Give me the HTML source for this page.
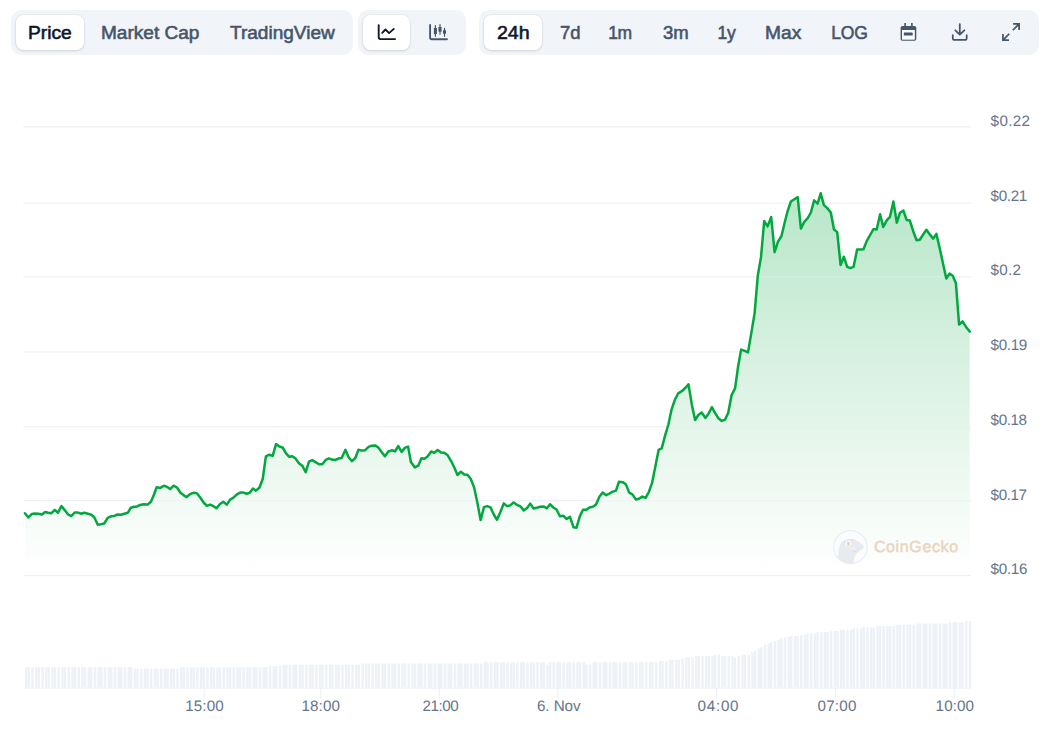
<!DOCTYPE html>
<html lang="en"><head><meta charset="utf-8"><title>Price chart</title>
<style>
html,body{margin:0;padding:0;background:#fff;}
body{width:1053px;height:730px;position:relative;overflow:hidden;font-family:"Liberation Sans",Arial,sans-serif;}
.grp{position:absolute;top:10px;height:45px;background:#f1f5f9;border-radius:10px;}
.pill{position:absolute;top:5px;height:35px;background:#fff;border-radius:7.5px;box-shadow:0 0 0 1px rgba(15,40,42,.035),0 1px 2.5px rgba(15,40,42,.13);}
.t{position:absolute;display:inline-block;transform-origin:0 50%;top:0.7px;height:45px;line-height:45px;font-size:17.5px;font-weight:400;-webkit-text-stroke:0.55px currentColor;color:#475569;white-space:nowrap;letter-spacing:0;}
.t.on{color:#0f172a;}
.ic{position:absolute;}
.chart{position:absolute;left:0;top:0;}
</style></head><body>
<div class="grp" style="left:11px;width:342px">
  <div class="pill" style="left:5px;width:68px"></div>
  <span class="t on" style="left:17.40px;transform:scaleX(1.0986)">Price</span>
  <span class="t" style="left:90.31px;transform:scaleX(1.0877)">Market Cap</span>
  <span class="t" style="left:218.80px;transform:scaleX(1.0883)">TradingView</span>
</div>
<div class="grp" style="left:358px;width:108px">
  <div class="pill" style="left:5px;width:47px"></div>
  <svg class="ic" style="left:17px;top:12px" width="22" height="22" viewBox="0 0 22 22" fill="none" stroke="#0f172a" stroke-width="1.85" stroke-linecap="round" stroke-linejoin="round">
    <path d="M3.7 3.1 V15.3 Q3.7 17.05 5.5 17.05 H20.1"/><path d="M7.2 10.9 L10.5 7.5 L14.1 11.1 L18.8 6.9"/></svg>
  <svg class="ic" style="left:69px;top:12px" width="22" height="22" viewBox="0 0 22 22" fill="none" stroke="#475569" stroke-width="1.85" stroke-linecap="round" stroke-linejoin="round">
    <path d="M3.1 2.9 V15.4 Q3.1 17.2 4.9 17.2 H20"/>
    <path d="M8.4 3.6 V14.3 M13 2.5 V12.2 M17.5 6.4 V14.3" stroke-width="1.2"/>
    <path d="M8.4 6.1 V12 M13 5 V9.8 M17.5 8.2 V11.8" stroke-width="3.1" stroke-linecap="butt"/></svg>
</div>
<div class="grp" style="left:479px;width:560px">
  <div class="pill" style="left:5px;width:58px"></div>
  <span class="t on" style="left:18.40px;transform:scaleX(1.1171)">24h</span>
  <span class="t" style="left:80.50px;transform:scaleX(1.0570)">7d</span>
  <span class="t" style="left:129.20px;letter-spacing:-0.333px">1m</span>
  <span class="t" style="left:183.90px;transform:scaleX(1.0576)">3m</span>
  <span class="t" style="left:238.40px;letter-spacing:-0.233px">1y</span>
  <span class="t" style="left:286.30px;transform:scaleX(1.0956)">Max</span>
  <span class="t" style="left:352.30px;letter-spacing:-0.222px">LOG</span>
  <svg class="ic" style="left:419px;top:11px" width="22" height="22" viewBox="0 0 22 22" fill="#475569">
    <path fill-rule="evenodd" d="M6.3 2.1 h1.6 v2.85 h5.2 v-2.85 h1.6 v2.85 h1.8 a1.8 1.8 0 0 1 1.8 1.8 v11.15 a1.8 1.8 0 0 1 -1.8 1.8 h-12.1 a1.8 1.8 0 0 1 -1.8 -1.8 v-11.15 a1.8 1.8 0 0 1 1.8 -1.8 h1.9 z M4.1 9 v9.4 h12.5 v-9.4 z"/>
    <rect x="4.1" y="9" width="12.5" height="9.4" fill="#fcfdfe"/>
    <rect x="5.8" y="11.4" width="8.9" height="3.2" rx="0.6"/></svg>
  <svg class="ic" style="left:470px;top:11px" width="22" height="22" viewBox="0 0 22 22" fill="none" stroke="#475569" stroke-width="1.75" stroke-linecap="round" stroke-linejoin="round">
    <path d="M10.8 3 V13.4 M6.3 9.3 L10.8 13.7 L15.3 9.3 M3.8 14.2 V16.9 Q3.8 18.95 5.9 18.95 H15.6 Q17.7 18.95 17.7 16.9 V14.2"/></svg>
  <svg class="ic" style="left:521px;top:11px" width="22" height="22" viewBox="0 0 22 22" fill="none" stroke="#475569" stroke-width="1.75" stroke-linecap="butt" stroke-linejoin="miter">
    <path d="M13.1 2.95 H19.1 V8.9 M19.1 2.95 L12.8 9.25 M2.95 13.1 V19.1 H9 M2.95 19.1 L9.3 12.75"/></svg>
</div>
<svg class="chart" width="1053" height="730" viewBox="0 0 1053 730">
<defs><linearGradient id="ag" x1="0" y1="192" x2="0" y2="572" gradientUnits="userSpaceOnUse"><stop offset="0" stop-color="#00a83e" stop-opacity="0.28"/><stop offset="1" stop-color="#00a83e" stop-opacity="0"/></linearGradient><clipPath id="ac"><path d="M24.9 513.2 L28.4 517.5 L31.7 514.1 L34.8 513.6 L38.5 513.8 L42.0 514.5 L45.1 512.0 L48.1 512.8 L51.5 513.2 L54.8 509.9 L58.0 512.8 L61.4 506.1 L64.7 510.1 L68.1 514.5 L71.2 516.1 L74.7 512.6 L78.0 512.6 L81.4 513.8 L84.2 512.8 L87.9 513.8 L91.4 514.8 L94.4 517.5 L97.8 524.7 L100.9 524.3 L104.2 523.5 L107.7 517.8 L111.0 516.3 L114.4 515.9 L117.5 514.5 L121.0 514.8 L124.3 513.8 L127.8 512.8 L130.9 507.7 L134.2 506.7 L137.3 506.4 L140.0 504.9 L143.7 504.2 L147.7 504.6 L151.1 501.5 L153.8 495.0 L156.7 487.3 L160.4 487.9 L163.8 485.8 L167.2 486.9 L170.2 489.1 L173.6 485.7 L177.0 487.5 L180.5 492.8 L183.5 495.1 L186.7 497.2 L190.0 494.1 L193.3 492.8 L196.8 493.2 L200.1 497.2 L203.6 502.5 L206.9 505.8 L210.0 504.6 L213.5 506.2 L216.5 508.3 L220.0 504.0 L223.3 501.7 L226.8 504.6 L230.1 499.6 L233.2 497.8 L236.9 494.4 L240.2 492.6 L243.5 492.6 L246.8 493.7 L249.9 492.6 L253.0 488.5 L256.0 490.7 L259.5 487.5 L262.7 479.0 L265.9 456.4 L269.3 454.7 L272.7 455.9 L276.0 444.1 L279.4 446.5 L282.6 447.5 L285.9 453.1 L289.3 456.8 L292.3 456.2 L295.6 458.6 L298.9 463.3 L302.6 466.1 L305.7 472.2 L309.0 461.7 L312.2 460.1 L315.6 462.1 L319.0 464.2 L322.3 464.2 L325.8 459.9 L328.9 458.4 L331.8 459.6 L335.1 460.0 L338.4 458.6 L341.7 458.0 L345.4 449.8 L348.6 457.2 L352.0 461.1 L355.3 458.0 L358.5 449.8 L361.9 450.6 L364.9 450.3 L368.6 446.9 L371.7 445.7 L375.1 445.4 L378.3 447.5 L381.6 451.9 L384.9 456.2 L388.4 451.5 L391.7 450.3 L395.1 451.3 L398.3 446.0 L401.6 451.9 L405.1 447.6 L408.1 446.6 L410.9 462.0 L414.9 467.4 L418.3 465.7 L421.4 458.3 L424.4 458.7 L427.5 456.5 L431.2 451.5 L434.3 452.8 L437.7 450.1 L441.1 452.5 L444.2 452.8 L447.7 455.3 L451.0 460.8 L454.1 467.0 L457.5 475.0 L460.9 471.7 L464.3 474.4 L467.4 474.8 L470.7 478.7 L474.1 487.4 L477.3 502.2 L480.6 520.1 L484.0 507.1 L487.2 506.1 L490.5 507.4 L493.8 514.5 L497.0 519.8 L500.4 512.0 L503.8 503.4 L507.0 506.1 L510.2 505.4 L513.6 502.4 L516.9 504.8 L520.4 506.3 L523.7 510.4 L526.9 508.3 L530.2 503.6 L533.6 508.5 L536.8 507.7 L540.1 506.7 L543.5 506.4 L546.9 508.3 L550.0 504.2 L553.3 507.5 L556.5 509.5 L559.9 516.2 L563.2 515.7 L566.7 519.0 L570.0 516.9 L573.5 527.3 L576.5 527.7 L580.0 515.9 L583.0 509.8 L586.4 509.8 L589.5 507.5 L592.8 506.7 L596.0 504.6 L599.4 496.8 L602.7 492.5 L606.2 495.2 L609.5 493.5 L612.6 491.6 L616.0 490.6 L618.9 481.8 L623.0 482.3 L626.0 484.6 L629.2 492.6 L632.4 494.4 L636.0 499.6 L639.0 498.7 L642.2 496.6 L645.6 497.8 L648.8 492.1 L652.0 483.2 L655.4 466.3 L658.6 449.9 L661.8 448.1 L665.2 435.1 L668.4 424.5 L671.6 409.3 L675.0 399.5 L678.2 393.3 L681.8 391.2 L685.0 388.3 L688.5 384.4 L691.9 404.9 L695.1 420.0 L698.3 415.0 L701.7 412.5 L705.3 417.9 L708.5 413.8 L711.8 407.2 L715.0 412.9 L718.3 418.2 L721.8 420.9 L725.0 419.7 L728.2 412.9 L731.6 395.1 L735.1 388.1 L738.2 366.0 L741.1 349.6 L744.7 350.9 L748.0 352.4 L751.3 333.1 L754.6 313.4 L757.8 275.5 L761.0 257.1 L764.2 221.1 L767.6 226.4 L771.2 217.0 L774.6 252.2 L777.9 241.9 L781.5 236.0 L784.5 223.2 L787.7 210.8 L790.9 201.5 L794.3 199.2 L797.7 197.1 L800.9 228.6 L804.3 221.8 L807.7 218.2 L810.9 212.5 L814.1 200.4 L817.6 203.6 L820.7 193.3 L823.9 205.1 L827.3 208.1 L830.8 212.5 L834.0 229.5 L837.2 232.1 L840.6 265.1 L843.8 256.7 L847.2 266.8 L850.4 268.1 L853.6 266.8 L857.1 249.6 L860.3 249.6 L863.5 249.2 L866.7 241.1 L869.9 235.4 L873.5 229.0 L876.7 229.5 L880.1 214.2 L883.2 226.9 L886.9 220.1 L890.0 216.9 L893.4 201.4 L896.8 222.7 L900.0 212.7 L903.4 210.6 L906.6 219.9 L909.8 220.5 L913.2 231.2 L916.6 240.3 L919.8 239.7 L923.0 234.8 L926.4 229.7 L929.8 234.4 L933.2 238.6 L936.4 233.9 L939.7 248.2 L942.9 263.0 L946.3 278.5 L949.5 273.6 L952.7 275.8 L955.9 283.2 L959.1 324.6 L962.5 321.4 L965.9 326.7 L969.7 331.6 L969.7 572.0 L24.9 572.0 Z"/></clipPath></defs>
<g stroke="#eef1f6" stroke-width="1.25">
<line x1="23.3" y1="126.875" x2="970.8" y2="126.875"/>
<line x1="23.3" y1="203.125" x2="970.8" y2="203.125"/>
<line x1="23.3" y1="276.875" x2="970.8" y2="276.875"/>
<line x1="23.3" y1="351.875" x2="970.8" y2="351.875"/>
<line x1="23.3" y1="426.875" x2="970.8" y2="426.875"/>
<line x1="23.3" y1="500.625" x2="970.8" y2="500.625"/>
<line x1="23.3" y1="575.625" x2="970.8" y2="575.625"/>
</g>
<g fill="#eef2f7"><rect x="25.00" y="667.20" width="2.5" height="20.30"/>
<rect x="27.50" y="667.20" width="2.5" height="20.30"/>
<rect x="31.25" y="667.20" width="2.5" height="20.30"/>
<rect x="35.00" y="667.20" width="2.5" height="20.30"/>
<rect x="37.50" y="667.20" width="2.5" height="20.30"/>
<rect x="41.25" y="667.20" width="2.5" height="20.30"/>
<rect x="45.00" y="667.20" width="2.5" height="20.30"/>
<rect x="47.50" y="667.20" width="2.5" height="20.30"/>
<rect x="51.25" y="667.20" width="2.5" height="20.30"/>
<rect x="53.75" y="667.20" width="2.5" height="20.30"/>
<rect x="57.50" y="667.20" width="2.5" height="20.30"/>
<rect x="61.25" y="667.20" width="2.5" height="20.30"/>
<rect x="63.75" y="667.20" width="2.5" height="20.30"/>
<rect x="67.50" y="667.20" width="2.5" height="20.30"/>
<rect x="71.25" y="667.20" width="2.5" height="20.30"/>
<rect x="73.75" y="667.20" width="2.5" height="20.30"/>
<rect x="77.50" y="667.20" width="2.5" height="20.30"/>
<rect x="81.25" y="667.20" width="2.5" height="20.30"/>
<rect x="83.75" y="667.20" width="2.5" height="20.30"/>
<rect x="87.50" y="667.20" width="2.5" height="20.30"/>
<rect x="90.00" y="667.20" width="2.5" height="20.30"/>
<rect x="93.75" y="667.20" width="2.5" height="20.30"/>
<rect x="97.50" y="667.20" width="2.5" height="20.30"/>
<rect x="100.00" y="667.20" width="2.5" height="20.30"/>
<rect x="103.75" y="667.20" width="2.5" height="20.30"/>
<rect x="107.50" y="667.20" width="2.5" height="20.30"/>
<rect x="110.00" y="667.20" width="2.5" height="20.30"/>
<rect x="113.75" y="667.20" width="2.5" height="20.30"/>
<rect x="117.50" y="667.20" width="2.5" height="20.30"/>
<rect x="120.00" y="667.20" width="2.5" height="20.30"/>
<rect x="123.75" y="667.20" width="2.5" height="20.30"/>
<rect x="127.50" y="667.20" width="2.5" height="20.30"/>
<rect x="130.00" y="667.20" width="2.5" height="20.30"/>
<rect x="133.75" y="668.45" width="2.5" height="19.05"/>
<rect x="136.25" y="668.45" width="2.5" height="19.05"/>
<rect x="140.00" y="668.45" width="2.5" height="19.05"/>
<rect x="143.75" y="668.45" width="2.5" height="19.05"/>
<rect x="146.25" y="668.45" width="2.5" height="19.05"/>
<rect x="150.00" y="668.45" width="2.5" height="19.05"/>
<rect x="153.75" y="668.45" width="2.5" height="19.05"/>
<rect x="156.25" y="668.45" width="2.5" height="19.05"/>
<rect x="160.00" y="668.45" width="2.5" height="19.05"/>
<rect x="163.75" y="668.45" width="2.5" height="19.05"/>
<rect x="166.25" y="668.45" width="2.5" height="19.05"/>
<rect x="170.00" y="668.45" width="2.5" height="19.05"/>
<rect x="172.50" y="668.45" width="2.5" height="19.05"/>
<rect x="176.25" y="668.45" width="2.5" height="19.05"/>
<rect x="180.00" y="667.20" width="2.5" height="20.30"/>
<rect x="182.50" y="667.20" width="2.5" height="20.30"/>
<rect x="186.25" y="667.20" width="2.5" height="20.30"/>
<rect x="190.00" y="667.20" width="2.5" height="20.30"/>
<rect x="192.50" y="667.20" width="2.5" height="20.30"/>
<rect x="196.25" y="667.20" width="2.5" height="20.30"/>
<rect x="200.00" y="667.20" width="2.5" height="20.30"/>
<rect x="202.50" y="667.20" width="2.5" height="20.30"/>
<rect x="206.25" y="667.20" width="2.5" height="20.30"/>
<rect x="210.00" y="667.20" width="2.5" height="20.30"/>
<rect x="212.50" y="667.20" width="2.5" height="20.30"/>
<rect x="216.25" y="667.20" width="2.5" height="20.30"/>
<rect x="218.75" y="667.20" width="2.5" height="20.30"/>
<rect x="222.50" y="667.20" width="2.5" height="20.30"/>
<rect x="226.25" y="667.20" width="2.5" height="20.30"/>
<rect x="228.75" y="667.20" width="2.5" height="20.30"/>
<rect x="232.50" y="667.20" width="2.5" height="20.30"/>
<rect x="236.25" y="667.20" width="2.5" height="20.30"/>
<rect x="238.75" y="667.20" width="2.5" height="20.30"/>
<rect x="242.50" y="667.20" width="2.5" height="20.30"/>
<rect x="246.25" y="667.20" width="2.5" height="20.30"/>
<rect x="248.75" y="667.20" width="2.5" height="20.30"/>
<rect x="252.50" y="667.20" width="2.5" height="20.30"/>
<rect x="255.00" y="667.20" width="2.5" height="20.30"/>
<rect x="258.75" y="667.20" width="2.5" height="20.30"/>
<rect x="262.50" y="667.20" width="2.5" height="20.30"/>
<rect x="265.00" y="667.20" width="2.5" height="20.30"/>
<rect x="268.75" y="665.95" width="2.5" height="21.55"/>
<rect x="272.50" y="665.95" width="2.5" height="21.55"/>
<rect x="275.00" y="665.95" width="2.5" height="21.55"/>
<rect x="278.75" y="665.95" width="2.5" height="21.55"/>
<rect x="282.50" y="664.70" width="2.5" height="22.80"/>
<rect x="285.00" y="664.70" width="2.5" height="22.80"/>
<rect x="288.75" y="664.70" width="2.5" height="22.80"/>
<rect x="292.50" y="664.70" width="2.5" height="22.80"/>
<rect x="295.00" y="664.70" width="2.5" height="22.80"/>
<rect x="298.75" y="664.70" width="2.5" height="22.80"/>
<rect x="301.25" y="664.70" width="2.5" height="22.80"/>
<rect x="305.00" y="664.70" width="2.5" height="22.80"/>
<rect x="308.75" y="664.70" width="2.5" height="22.80"/>
<rect x="311.25" y="664.70" width="2.5" height="22.80"/>
<rect x="315.00" y="664.70" width="2.5" height="22.80"/>
<rect x="318.75" y="664.70" width="2.5" height="22.80"/>
<rect x="321.25" y="664.70" width="2.5" height="22.80"/>
<rect x="325.00" y="664.70" width="2.5" height="22.80"/>
<rect x="328.75" y="664.70" width="2.5" height="22.80"/>
<rect x="331.25" y="664.70" width="2.5" height="22.80"/>
<rect x="335.00" y="664.70" width="2.5" height="22.80"/>
<rect x="337.50" y="664.70" width="2.5" height="22.80"/>
<rect x="341.25" y="664.70" width="2.5" height="22.80"/>
<rect x="345.00" y="664.70" width="2.5" height="22.80"/>
<rect x="347.50" y="664.70" width="2.5" height="22.80"/>
<rect x="351.25" y="664.70" width="2.5" height="22.80"/>
<rect x="355.00" y="664.70" width="2.5" height="22.80"/>
<rect x="357.50" y="664.70" width="2.5" height="22.80"/>
<rect x="361.25" y="663.45" width="2.5" height="24.05"/>
<rect x="365.00" y="663.45" width="2.5" height="24.05"/>
<rect x="367.50" y="663.45" width="2.5" height="24.05"/>
<rect x="371.25" y="663.45" width="2.5" height="24.05"/>
<rect x="375.00" y="663.45" width="2.5" height="24.05"/>
<rect x="377.50" y="663.45" width="2.5" height="24.05"/>
<rect x="381.25" y="663.45" width="2.5" height="24.05"/>
<rect x="383.75" y="663.45" width="2.5" height="24.05"/>
<rect x="387.50" y="663.45" width="2.5" height="24.05"/>
<rect x="391.25" y="663.45" width="2.5" height="24.05"/>
<rect x="393.75" y="663.45" width="2.5" height="24.05"/>
<rect x="397.50" y="663.45" width="2.5" height="24.05"/>
<rect x="401.25" y="663.45" width="2.5" height="24.05"/>
<rect x="403.75" y="663.45" width="2.5" height="24.05"/>
<rect x="407.50" y="663.45" width="2.5" height="24.05"/>
<rect x="411.25" y="663.45" width="2.5" height="24.05"/>
<rect x="413.75" y="663.45" width="2.5" height="24.05"/>
<rect x="417.50" y="663.45" width="2.5" height="24.05"/>
<rect x="420.00" y="663.45" width="2.5" height="24.05"/>
<rect x="423.75" y="663.45" width="2.5" height="24.05"/>
<rect x="427.50" y="663.45" width="2.5" height="24.05"/>
<rect x="430.00" y="663.45" width="2.5" height="24.05"/>
<rect x="433.75" y="663.45" width="2.5" height="24.05"/>
<rect x="437.50" y="663.45" width="2.5" height="24.05"/>
<rect x="440.00" y="663.45" width="2.5" height="24.05"/>
<rect x="443.75" y="663.45" width="2.5" height="24.05"/>
<rect x="447.50" y="663.45" width="2.5" height="24.05"/>
<rect x="450.00" y="663.45" width="2.5" height="24.05"/>
<rect x="453.75" y="663.45" width="2.5" height="24.05"/>
<rect x="457.50" y="663.45" width="2.5" height="24.05"/>
<rect x="460.00" y="663.45" width="2.5" height="24.05"/>
<rect x="463.75" y="663.45" width="2.5" height="24.05"/>
<rect x="466.25" y="663.45" width="2.5" height="24.05"/>
<rect x="470.00" y="663.45" width="2.5" height="24.05"/>
<rect x="473.75" y="663.45" width="2.5" height="24.05"/>
<rect x="476.25" y="663.45" width="2.5" height="24.05"/>
<rect x="480.00" y="663.45" width="2.5" height="24.05"/>
<rect x="483.75" y="662.20" width="2.5" height="25.30"/>
<rect x="486.25" y="662.20" width="2.5" height="25.30"/>
<rect x="490.00" y="662.20" width="2.5" height="25.30"/>
<rect x="493.75" y="662.20" width="2.5" height="25.30"/>
<rect x="496.25" y="662.20" width="2.5" height="25.30"/>
<rect x="500.00" y="662.20" width="2.5" height="25.30"/>
<rect x="502.50" y="662.20" width="2.5" height="25.30"/>
<rect x="506.25" y="662.20" width="2.5" height="25.30"/>
<rect x="510.00" y="662.20" width="2.5" height="25.30"/>
<rect x="512.50" y="662.20" width="2.5" height="25.30"/>
<rect x="516.25" y="662.20" width="2.5" height="25.30"/>
<rect x="520.00" y="662.20" width="2.5" height="25.30"/>
<rect x="522.50" y="662.20" width="2.5" height="25.30"/>
<rect x="526.25" y="662.20" width="2.5" height="25.30"/>
<rect x="530.00" y="662.20" width="2.5" height="25.30"/>
<rect x="532.50" y="662.20" width="2.5" height="25.30"/>
<rect x="536.25" y="662.20" width="2.5" height="25.30"/>
<rect x="540.00" y="662.20" width="2.5" height="25.30"/>
<rect x="542.50" y="662.20" width="2.5" height="25.30"/>
<rect x="546.25" y="664.70" width="2.5" height="22.80"/>
<rect x="548.75" y="662.20" width="2.5" height="25.30"/>
<rect x="552.50" y="662.20" width="2.5" height="25.30"/>
<rect x="556.25" y="662.20" width="2.5" height="25.30"/>
<rect x="558.75" y="662.20" width="2.5" height="25.30"/>
<rect x="562.50" y="662.20" width="2.5" height="25.30"/>
<rect x="566.25" y="662.20" width="2.5" height="25.30"/>
<rect x="568.75" y="662.20" width="2.5" height="25.30"/>
<rect x="572.50" y="662.20" width="2.5" height="25.30"/>
<rect x="576.25" y="662.20" width="2.5" height="25.30"/>
<rect x="578.75" y="662.20" width="2.5" height="25.30"/>
<rect x="582.50" y="662.20" width="2.5" height="25.30"/>
<rect x="585.00" y="664.70" width="2.5" height="22.80"/>
<rect x="588.75" y="664.70" width="2.5" height="22.80"/>
<rect x="592.50" y="662.20" width="2.5" height="25.30"/>
<rect x="595.00" y="662.20" width="2.5" height="25.30"/>
<rect x="598.75" y="662.20" width="2.5" height="25.30"/>
<rect x="602.50" y="662.20" width="2.5" height="25.30"/>
<rect x="605.00" y="662.20" width="2.5" height="25.30"/>
<rect x="608.75" y="662.20" width="2.5" height="25.30"/>
<rect x="612.50" y="662.20" width="2.5" height="25.30"/>
<rect x="615.00" y="662.20" width="2.5" height="25.30"/>
<rect x="618.75" y="662.20" width="2.5" height="25.30"/>
<rect x="622.50" y="662.20" width="2.5" height="25.30"/>
<rect x="625.00" y="662.20" width="2.5" height="25.30"/>
<rect x="628.75" y="662.20" width="2.5" height="25.30"/>
<rect x="631.25" y="662.20" width="2.5" height="25.30"/>
<rect x="635.00" y="662.20" width="2.5" height="25.30"/>
<rect x="638.75" y="662.20" width="2.5" height="25.30"/>
<rect x="641.25" y="662.20" width="2.5" height="25.30"/>
<rect x="645.00" y="662.20" width="2.5" height="25.30"/>
<rect x="648.75" y="662.20" width="2.5" height="25.30"/>
<rect x="651.25" y="662.20" width="2.5" height="25.30"/>
<rect x="655.00" y="662.20" width="2.5" height="25.30"/>
<rect x="658.75" y="660.95" width="2.5" height="26.55"/>
<rect x="661.25" y="660.95" width="2.5" height="26.55"/>
<rect x="665.00" y="660.95" width="2.5" height="26.55"/>
<rect x="668.75" y="659.70" width="2.5" height="27.80"/>
<rect x="671.25" y="659.70" width="2.5" height="27.80"/>
<rect x="675.00" y="659.70" width="2.5" height="27.80"/>
<rect x="677.50" y="659.70" width="2.5" height="27.80"/>
<rect x="681.25" y="658.45" width="2.5" height="29.05"/>
<rect x="685.00" y="657.20" width="2.5" height="30.30"/>
<rect x="687.50" y="657.20" width="2.5" height="30.30"/>
<rect x="691.25" y="657.20" width="2.5" height="30.30"/>
<rect x="695.00" y="655.95" width="2.5" height="31.55"/>
<rect x="697.50" y="655.95" width="2.5" height="31.55"/>
<rect x="701.25" y="655.95" width="2.5" height="31.55"/>
<rect x="705.00" y="655.95" width="2.5" height="31.55"/>
<rect x="707.50" y="655.95" width="2.5" height="31.55"/>
<rect x="711.25" y="655.95" width="2.5" height="31.55"/>
<rect x="713.75" y="654.70" width="2.5" height="32.80"/>
<rect x="717.50" y="654.70" width="2.5" height="32.80"/>
<rect x="721.25" y="655.95" width="2.5" height="31.55"/>
<rect x="723.75" y="655.95" width="2.5" height="31.55"/>
<rect x="727.50" y="655.95" width="2.5" height="31.55"/>
<rect x="731.25" y="655.95" width="2.5" height="31.55"/>
<rect x="733.75" y="657.20" width="2.5" height="30.30"/>
<rect x="737.50" y="655.95" width="2.5" height="31.55"/>
<rect x="741.25" y="654.70" width="2.5" height="32.80"/>
<rect x="743.75" y="654.70" width="2.5" height="32.80"/>
<rect x="747.50" y="654.70" width="2.5" height="32.80"/>
<rect x="751.25" y="652.20" width="2.5" height="35.30"/>
<rect x="753.75" y="650.95" width="2.5" height="36.55"/>
<rect x="757.50" y="648.45" width="2.5" height="39.05"/>
<rect x="760.00" y="647.20" width="2.5" height="40.30"/>
<rect x="763.75" y="644.70" width="2.5" height="42.80"/>
<rect x="767.50" y="643.45" width="2.5" height="44.05"/>
<rect x="770.00" y="642.20" width="2.5" height="45.30"/>
<rect x="773.75" y="640.95" width="2.5" height="46.55"/>
<rect x="777.50" y="639.70" width="2.5" height="47.80"/>
<rect x="780.00" y="638.45" width="2.5" height="49.05"/>
<rect x="783.75" y="637.20" width="2.5" height="50.30"/>
<rect x="787.50" y="637.20" width="2.5" height="50.30"/>
<rect x="790.00" y="635.95" width="2.5" height="51.55"/>
<rect x="793.75" y="635.95" width="2.5" height="51.55"/>
<rect x="796.25" y="635.95" width="2.5" height="51.55"/>
<rect x="800.00" y="634.70" width="2.5" height="52.80"/>
<rect x="803.75" y="634.70" width="2.5" height="52.80"/>
<rect x="806.25" y="633.45" width="2.5" height="54.05"/>
<rect x="810.00" y="633.45" width="2.5" height="54.05"/>
<rect x="813.75" y="633.45" width="2.5" height="54.05"/>
<rect x="816.25" y="632.20" width="2.5" height="55.30"/>
<rect x="820.00" y="632.20" width="2.5" height="55.30"/>
<rect x="823.75" y="632.20" width="2.5" height="55.30"/>
<rect x="826.25" y="632.20" width="2.5" height="55.30"/>
<rect x="830.00" y="630.95" width="2.5" height="56.55"/>
<rect x="833.75" y="630.95" width="2.5" height="56.55"/>
<rect x="836.25" y="630.95" width="2.5" height="56.55"/>
<rect x="840.00" y="629.70" width="2.5" height="57.80"/>
<rect x="842.50" y="629.70" width="2.5" height="57.80"/>
<rect x="846.25" y="629.70" width="2.5" height="57.80"/>
<rect x="850.00" y="629.70" width="2.5" height="57.80"/>
<rect x="852.50" y="628.45" width="2.5" height="59.05"/>
<rect x="856.25" y="628.45" width="2.5" height="59.05"/>
<rect x="860.00" y="628.45" width="2.5" height="59.05"/>
<rect x="862.50" y="627.20" width="2.5" height="60.30"/>
<rect x="866.25" y="627.20" width="2.5" height="60.30"/>
<rect x="870.00" y="627.20" width="2.5" height="60.30"/>
<rect x="872.50" y="627.20" width="2.5" height="60.30"/>
<rect x="876.25" y="625.95" width="2.5" height="61.55"/>
<rect x="878.75" y="625.95" width="2.5" height="61.55"/>
<rect x="882.50" y="625.95" width="2.5" height="61.55"/>
<rect x="886.25" y="625.95" width="2.5" height="61.55"/>
<rect x="888.75" y="625.95" width="2.5" height="61.55"/>
<rect x="892.50" y="625.95" width="2.5" height="61.55"/>
<rect x="896.25" y="624.70" width="2.5" height="62.80"/>
<rect x="898.75" y="624.70" width="2.5" height="62.80"/>
<rect x="902.50" y="624.70" width="2.5" height="62.80"/>
<rect x="906.25" y="624.70" width="2.5" height="62.80"/>
<rect x="908.75" y="624.70" width="2.5" height="62.80"/>
<rect x="912.50" y="624.70" width="2.5" height="62.80"/>
<rect x="916.25" y="623.45" width="2.5" height="64.05"/>
<rect x="918.75" y="623.45" width="2.5" height="64.05"/>
<rect x="922.50" y="623.45" width="2.5" height="64.05"/>
<rect x="925.00" y="623.45" width="2.5" height="64.05"/>
<rect x="928.75" y="623.45" width="2.5" height="64.05"/>
<rect x="932.50" y="623.45" width="2.5" height="64.05"/>
<rect x="935.00" y="623.45" width="2.5" height="64.05"/>
<rect x="938.75" y="623.45" width="2.5" height="64.05"/>
<rect x="942.50" y="623.45" width="2.5" height="64.05"/>
<rect x="945.00" y="623.45" width="2.5" height="64.05"/>
<rect x="948.75" y="622.20" width="2.5" height="65.30"/>
<rect x="952.50" y="622.20" width="2.5" height="65.30"/>
<rect x="955.00" y="622.20" width="2.5" height="65.30"/>
<rect x="958.75" y="622.20" width="2.5" height="65.30"/>
<rect x="961.25" y="622.20" width="2.5" height="65.30"/>
<rect x="965.00" y="620.95" width="2.5" height="66.55"/>
<rect x="968.75" y="620.95" width="2.5" height="66.55"/></g>
<line x1="23.3" y1="688.125" x2="970.8" y2="688.125" stroke="#eef1f6" stroke-width="1.25"/>
<g stroke="#eff2f5" stroke-width="1.25">
<line x1="204.2" y1="688" x2="204.2" y2="699.5"/>
<line x1="320.5" y1="688" x2="320.5" y2="699.5"/>
<line x1="439.3" y1="688" x2="439.3" y2="699.5"/>
<line x1="557.9" y1="688" x2="557.9" y2="699.5"/>
<line x1="716.6" y1="688" x2="716.6" y2="699.5"/>
<line x1="835.5" y1="688" x2="835.5" y2="699.5"/>
<line x1="954.2" y1="688" x2="954.2" y2="699.5"/>
</g>
<path d="M24.9 513.2 L28.4 517.5 L31.7 514.1 L34.8 513.6 L38.5 513.8 L42.0 514.5 L45.1 512.0 L48.1 512.8 L51.5 513.2 L54.8 509.9 L58.0 512.8 L61.4 506.1 L64.7 510.1 L68.1 514.5 L71.2 516.1 L74.7 512.6 L78.0 512.6 L81.4 513.8 L84.2 512.8 L87.9 513.8 L91.4 514.8 L94.4 517.5 L97.8 524.7 L100.9 524.3 L104.2 523.5 L107.7 517.8 L111.0 516.3 L114.4 515.9 L117.5 514.5 L121.0 514.8 L124.3 513.8 L127.8 512.8 L130.9 507.7 L134.2 506.7 L137.3 506.4 L140.0 504.9 L143.7 504.2 L147.7 504.6 L151.1 501.5 L153.8 495.0 L156.7 487.3 L160.4 487.9 L163.8 485.8 L167.2 486.9 L170.2 489.1 L173.6 485.7 L177.0 487.5 L180.5 492.8 L183.5 495.1 L186.7 497.2 L190.0 494.1 L193.3 492.8 L196.8 493.2 L200.1 497.2 L203.6 502.5 L206.9 505.8 L210.0 504.6 L213.5 506.2 L216.5 508.3 L220.0 504.0 L223.3 501.7 L226.8 504.6 L230.1 499.6 L233.2 497.8 L236.9 494.4 L240.2 492.6 L243.5 492.6 L246.8 493.7 L249.9 492.6 L253.0 488.5 L256.0 490.7 L259.5 487.5 L262.7 479.0 L265.9 456.4 L269.3 454.7 L272.7 455.9 L276.0 444.1 L279.4 446.5 L282.6 447.5 L285.9 453.1 L289.3 456.8 L292.3 456.2 L295.6 458.6 L298.9 463.3 L302.6 466.1 L305.7 472.2 L309.0 461.7 L312.2 460.1 L315.6 462.1 L319.0 464.2 L322.3 464.2 L325.8 459.9 L328.9 458.4 L331.8 459.6 L335.1 460.0 L338.4 458.6 L341.7 458.0 L345.4 449.8 L348.6 457.2 L352.0 461.1 L355.3 458.0 L358.5 449.8 L361.9 450.6 L364.9 450.3 L368.6 446.9 L371.7 445.7 L375.1 445.4 L378.3 447.5 L381.6 451.9 L384.9 456.2 L388.4 451.5 L391.7 450.3 L395.1 451.3 L398.3 446.0 L401.6 451.9 L405.1 447.6 L408.1 446.6 L410.9 462.0 L414.9 467.4 L418.3 465.7 L421.4 458.3 L424.4 458.7 L427.5 456.5 L431.2 451.5 L434.3 452.8 L437.7 450.1 L441.1 452.5 L444.2 452.8 L447.7 455.3 L451.0 460.8 L454.1 467.0 L457.5 475.0 L460.9 471.7 L464.3 474.4 L467.4 474.8 L470.7 478.7 L474.1 487.4 L477.3 502.2 L480.6 520.1 L484.0 507.1 L487.2 506.1 L490.5 507.4 L493.8 514.5 L497.0 519.8 L500.4 512.0 L503.8 503.4 L507.0 506.1 L510.2 505.4 L513.6 502.4 L516.9 504.8 L520.4 506.3 L523.7 510.4 L526.9 508.3 L530.2 503.6 L533.6 508.5 L536.8 507.7 L540.1 506.7 L543.5 506.4 L546.9 508.3 L550.0 504.2 L553.3 507.5 L556.5 509.5 L559.9 516.2 L563.2 515.7 L566.7 519.0 L570.0 516.9 L573.5 527.3 L576.5 527.7 L580.0 515.9 L583.0 509.8 L586.4 509.8 L589.5 507.5 L592.8 506.7 L596.0 504.6 L599.4 496.8 L602.7 492.5 L606.2 495.2 L609.5 493.5 L612.6 491.6 L616.0 490.6 L618.9 481.8 L623.0 482.3 L626.0 484.6 L629.2 492.6 L632.4 494.4 L636.0 499.6 L639.0 498.7 L642.2 496.6 L645.6 497.8 L648.8 492.1 L652.0 483.2 L655.4 466.3 L658.6 449.9 L661.8 448.1 L665.2 435.1 L668.4 424.5 L671.6 409.3 L675.0 399.5 L678.2 393.3 L681.8 391.2 L685.0 388.3 L688.5 384.4 L691.9 404.9 L695.1 420.0 L698.3 415.0 L701.7 412.5 L705.3 417.9 L708.5 413.8 L711.8 407.2 L715.0 412.9 L718.3 418.2 L721.8 420.9 L725.0 419.7 L728.2 412.9 L731.6 395.1 L735.1 388.1 L738.2 366.0 L741.1 349.6 L744.7 350.9 L748.0 352.4 L751.3 333.1 L754.6 313.4 L757.8 275.5 L761.0 257.1 L764.2 221.1 L767.6 226.4 L771.2 217.0 L774.6 252.2 L777.9 241.9 L781.5 236.0 L784.5 223.2 L787.7 210.8 L790.9 201.5 L794.3 199.2 L797.7 197.1 L800.9 228.6 L804.3 221.8 L807.7 218.2 L810.9 212.5 L814.1 200.4 L817.6 203.6 L820.7 193.3 L823.9 205.1 L827.3 208.1 L830.8 212.5 L834.0 229.5 L837.2 232.1 L840.6 265.1 L843.8 256.7 L847.2 266.8 L850.4 268.1 L853.6 266.8 L857.1 249.6 L860.3 249.6 L863.5 249.2 L866.7 241.1 L869.9 235.4 L873.5 229.0 L876.7 229.5 L880.1 214.2 L883.2 226.9 L886.9 220.1 L890.0 216.9 L893.4 201.4 L896.8 222.7 L900.0 212.7 L903.4 210.6 L906.6 219.9 L909.8 220.5 L913.2 231.2 L916.6 240.3 L919.8 239.7 L923.0 234.8 L926.4 229.7 L929.8 234.4 L933.2 238.6 L936.4 233.9 L939.7 248.2 L942.9 263.0 L946.3 278.5 L949.5 273.6 L952.7 275.8 L955.9 283.2 L959.1 324.6 L962.5 321.4 L965.9 326.7 L969.7 331.6 L969.7 572.0 L24.9 572.0 Z" fill="url(#ag)"/>
<g stroke="#ffffff" stroke-opacity="0.45" stroke-width="1.25" clip-path="url(#ac)">
<line x1="23.3" y1="126.875" x2="970.8" y2="126.875"/>
<line x1="23.3" y1="203.125" x2="970.8" y2="203.125"/>
<line x1="23.3" y1="276.875" x2="970.8" y2="276.875"/>
<line x1="23.3" y1="351.875" x2="970.8" y2="351.875"/>
<line x1="23.3" y1="426.875" x2="970.8" y2="426.875"/>
<line x1="23.3" y1="500.625" x2="970.8" y2="500.625"/>
<line x1="23.3" y1="575.625" x2="970.8" y2="575.625"/>
</g>
<path d="M24.9 513.2 L28.4 517.5 L31.7 514.1 L34.8 513.6 L38.5 513.8 L42.0 514.5 L45.1 512.0 L48.1 512.8 L51.5 513.2 L54.8 509.9 L58.0 512.8 L61.4 506.1 L64.7 510.1 L68.1 514.5 L71.2 516.1 L74.7 512.6 L78.0 512.6 L81.4 513.8 L84.2 512.8 L87.9 513.8 L91.4 514.8 L94.4 517.5 L97.8 524.7 L100.9 524.3 L104.2 523.5 L107.7 517.8 L111.0 516.3 L114.4 515.9 L117.5 514.5 L121.0 514.8 L124.3 513.8 L127.8 512.8 L130.9 507.7 L134.2 506.7 L137.3 506.4 L140.0 504.9 L143.7 504.2 L147.7 504.6 L151.1 501.5 L153.8 495.0 L156.7 487.3 L160.4 487.9 L163.8 485.8 L167.2 486.9 L170.2 489.1 L173.6 485.7 L177.0 487.5 L180.5 492.8 L183.5 495.1 L186.7 497.2 L190.0 494.1 L193.3 492.8 L196.8 493.2 L200.1 497.2 L203.6 502.5 L206.9 505.8 L210.0 504.6 L213.5 506.2 L216.5 508.3 L220.0 504.0 L223.3 501.7 L226.8 504.6 L230.1 499.6 L233.2 497.8 L236.9 494.4 L240.2 492.6 L243.5 492.6 L246.8 493.7 L249.9 492.6 L253.0 488.5 L256.0 490.7 L259.5 487.5 L262.7 479.0 L265.9 456.4 L269.3 454.7 L272.7 455.9 L276.0 444.1 L279.4 446.5 L282.6 447.5 L285.9 453.1 L289.3 456.8 L292.3 456.2 L295.6 458.6 L298.9 463.3 L302.6 466.1 L305.7 472.2 L309.0 461.7 L312.2 460.1 L315.6 462.1 L319.0 464.2 L322.3 464.2 L325.8 459.9 L328.9 458.4 L331.8 459.6 L335.1 460.0 L338.4 458.6 L341.7 458.0 L345.4 449.8 L348.6 457.2 L352.0 461.1 L355.3 458.0 L358.5 449.8 L361.9 450.6 L364.9 450.3 L368.6 446.9 L371.7 445.7 L375.1 445.4 L378.3 447.5 L381.6 451.9 L384.9 456.2 L388.4 451.5 L391.7 450.3 L395.1 451.3 L398.3 446.0 L401.6 451.9 L405.1 447.6 L408.1 446.6 L410.9 462.0 L414.9 467.4 L418.3 465.7 L421.4 458.3 L424.4 458.7 L427.5 456.5 L431.2 451.5 L434.3 452.8 L437.7 450.1 L441.1 452.5 L444.2 452.8 L447.7 455.3 L451.0 460.8 L454.1 467.0 L457.5 475.0 L460.9 471.7 L464.3 474.4 L467.4 474.8 L470.7 478.7 L474.1 487.4 L477.3 502.2 L480.6 520.1 L484.0 507.1 L487.2 506.1 L490.5 507.4 L493.8 514.5 L497.0 519.8 L500.4 512.0 L503.8 503.4 L507.0 506.1 L510.2 505.4 L513.6 502.4 L516.9 504.8 L520.4 506.3 L523.7 510.4 L526.9 508.3 L530.2 503.6 L533.6 508.5 L536.8 507.7 L540.1 506.7 L543.5 506.4 L546.9 508.3 L550.0 504.2 L553.3 507.5 L556.5 509.5 L559.9 516.2 L563.2 515.7 L566.7 519.0 L570.0 516.9 L573.5 527.3 L576.5 527.7 L580.0 515.9 L583.0 509.8 L586.4 509.8 L589.5 507.5 L592.8 506.7 L596.0 504.6 L599.4 496.8 L602.7 492.5 L606.2 495.2 L609.5 493.5 L612.6 491.6 L616.0 490.6 L618.9 481.8 L623.0 482.3 L626.0 484.6 L629.2 492.6 L632.4 494.4 L636.0 499.6 L639.0 498.7 L642.2 496.6 L645.6 497.8 L648.8 492.1 L652.0 483.2 L655.4 466.3 L658.6 449.9 L661.8 448.1 L665.2 435.1 L668.4 424.5 L671.6 409.3 L675.0 399.5 L678.2 393.3 L681.8 391.2 L685.0 388.3 L688.5 384.4 L691.9 404.9 L695.1 420.0 L698.3 415.0 L701.7 412.5 L705.3 417.9 L708.5 413.8 L711.8 407.2 L715.0 412.9 L718.3 418.2 L721.8 420.9 L725.0 419.7 L728.2 412.9 L731.6 395.1 L735.1 388.1 L738.2 366.0 L741.1 349.6 L744.7 350.9 L748.0 352.4 L751.3 333.1 L754.6 313.4 L757.8 275.5 L761.0 257.1 L764.2 221.1 L767.6 226.4 L771.2 217.0 L774.6 252.2 L777.9 241.9 L781.5 236.0 L784.5 223.2 L787.7 210.8 L790.9 201.5 L794.3 199.2 L797.7 197.1 L800.9 228.6 L804.3 221.8 L807.7 218.2 L810.9 212.5 L814.1 200.4 L817.6 203.6 L820.7 193.3 L823.9 205.1 L827.3 208.1 L830.8 212.5 L834.0 229.5 L837.2 232.1 L840.6 265.1 L843.8 256.7 L847.2 266.8 L850.4 268.1 L853.6 266.8 L857.1 249.6 L860.3 249.6 L863.5 249.2 L866.7 241.1 L869.9 235.4 L873.5 229.0 L876.7 229.5 L880.1 214.2 L883.2 226.9 L886.9 220.1 L890.0 216.9 L893.4 201.4 L896.8 222.7 L900.0 212.7 L903.4 210.6 L906.6 219.9 L909.8 220.5 L913.2 231.2 L916.6 240.3 L919.8 239.7 L923.0 234.8 L926.4 229.7 L929.8 234.4 L933.2 238.6 L936.4 233.9 L939.7 248.2 L942.9 263.0 L946.3 278.5 L949.5 273.6 L952.7 275.8 L955.9 283.2 L959.1 324.6 L962.5 321.4 L965.9 326.7 L969.7 331.6" fill="none" stroke="#00a83e" stroke-width="2.5" stroke-linejoin="round" stroke-linecap="round"/>
<g font-family="'Liberation Sans', Arial, sans-serif" font-size="15.2" text-rendering="geometricPrecision" fill="#64748b">
<text x="990.60" y="125.75" letter-spacing="0.335">$0.22</text>
<text x="990.60" y="200.50" letter-spacing="-0.340">$0.21</text>
<text x="990.60" y="275.25" letter-spacing="0.296">$0.2</text>
<text x="990.60" y="350.00" letter-spacing="-0.340">$0.19</text>
<text x="990.60" y="424.75" letter-spacing="-0.415">$0.18</text>
<text x="990.60" y="499.50" letter-spacing="-0.390">$0.17</text>
<text x="990.60" y="574.25" letter-spacing="-0.290">$0.16</text>
<text x="185.30" y="711" letter-spacing="0.085">15:00</text>
<text x="301.50" y="711" letter-spacing="0.110">18:00</text>
<text x="422.50" y="711" letter-spacing="-0.465">21:00</text>
<text x="537.00" y="711" letter-spacing="-0.080">6. Nov</text>
<text x="697.50" y="711" letter-spacing="0.760">04:00</text>
<text x="817.50" y="711" letter-spacing="0.210">07:00</text>
<text x="935.60" y="711" letter-spacing="0.085">10:00</text>
</g>
<g>
<circle cx="850.5" cy="547.2" r="16.6" fill="#fbfcfd" stroke="#e9ecf3" stroke-width="1.1"/>
<path d="M838 557 C838.4 549 839.5 544 842.5 541.3 C845 539.2 848.5 538.9 852.5 539.1 C856 539.5 859.5 542.5 863.2 545 C864.3 546.5 863.5 548.5 861.5 549.8 C858.5 551.8 856 554 854.7 556.8 C853.8 559 853.6 561.5 853.6 563.5 A16.6 16.6 0 0 1 838 557 Z" fill="#e8ebee"/>
<circle cx="848.4" cy="543.7" r="2.7" fill="#fdfdfd"/>
<rect x="847.2" y="542.1" width="2.4" height="3.6" rx="0.5" fill="#ebcfae"/>
<rect x="853" y="550.9" width="1" height="1" fill="#ebcfae"/><rect x="855.1" y="550.9" width="1" height="1" fill="#ebcfae"/>
<rect x="852" y="539" width="1" height="0.9" fill="#ebcfae"/>
<path d="M850.5 548.3 h4.2" stroke="#f6f7f8" stroke-width="1.2" fill="none"/>
<text x="873.90" y="551.7" font-family="'Liberation Sans', Arial, sans-serif" font-size="16" letter-spacing="0.631" fill="#ebd5bd" stroke="#ebd5bd" stroke-width="0.55" text-rendering="geometricPrecision">CoinGecko</text>
</g>
</svg>
</body></html>
